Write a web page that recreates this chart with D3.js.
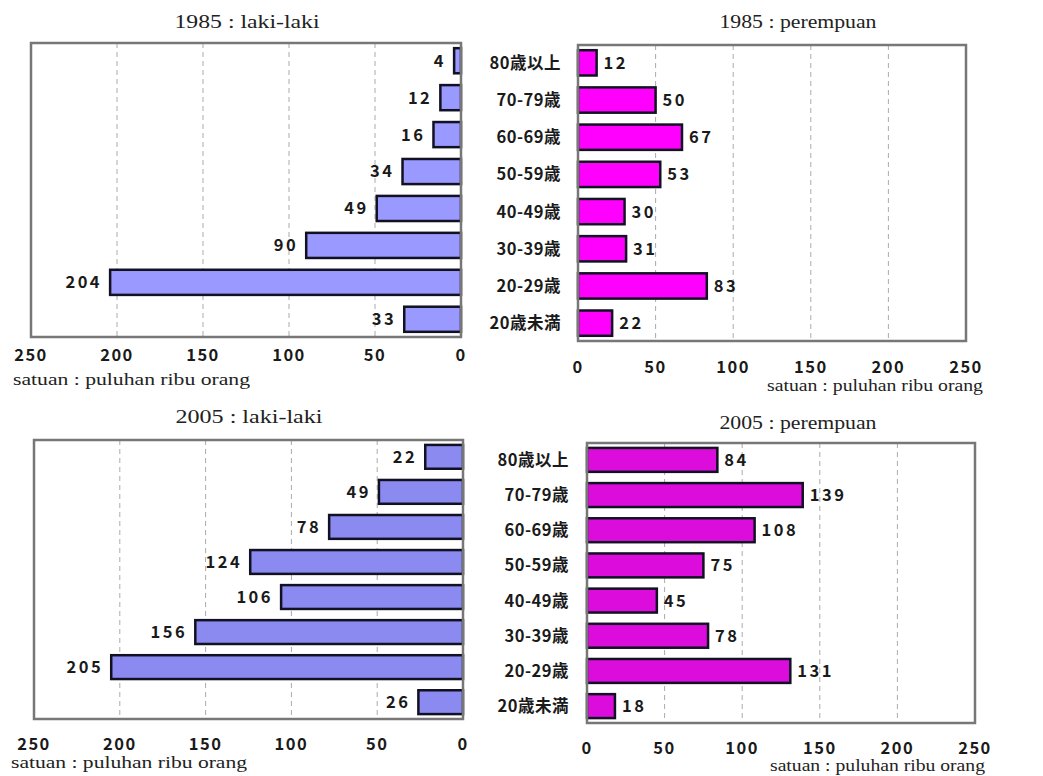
<!DOCTYPE html>
<html lang="en">
<head>
<meta charset="UTF-8">
<title>Penduduk 1985 / 2005</title>
<script src="https://cdn.jsdelivr.net/npm/d3@7"></script>
<style>
    body { margin: 0; background: #fff; }
    .title, .unit { font-family: "Liberation Serif", "Times New Roman", serif; fill: #222; }
    .tick-lbl, .val, .cat { font-family: "Noto Sans CJK KR", "DejaVu Sans", sans-serif; fill: #1a1a1a; font-weight: 700; }
</style>
</head>
<body>
<div id="chart"></div>
<script>
    // age groups, top to bottom
    var categories = ["80歳以上", "70-79歳", "60-69歳", "50-59歳", "40-49歳", "30-39歳", "20-29歳", "20歳未満"];
    // values in puluhan ribu orang
    var male1985   = [4, 12, 16, 34, 49, 90, 204, 33];
    var female1985 = [12, 50, 67, 53, 30, 31, 83, 22];
    var male2005   = [22, 49, 78, 124, 106, 156, 205, 26];
    var female2005 = [84, 139, 108, 75, 45, 78, 131, 18];
    var tickValues = [0, 50, 100, 150, 200, 250];
    var unitLabel = "satuan : puluhan ribu orang";

    var svg = d3.select("#chart").append("svg")
        .attr("width", 1043)
        .attr("height", 776);

    // each panel: box, title, colours
    var panels = [
        {title: "1985 : laki-laki", values: male1985, side: "left", fill: "#9999ff",
         x0: 31, x1: 461, y0: 43, y1: 337, titleX: 247, titleY: 28, titleW: 145,
         tickY: 361, unitX: 13, unitY: 385, unitW: 237},
        {title: "1985 : perempuan", values: female1985, side: "right", fill: "#ff00ff",
         x0: 578, x1: 966, y0: 45, y1: 341, titleX: 798, titleY: 28, titleW: 157,
         tickY: 373, unitX: 983, unitY: 391, unitW: 216, catX: 561},
        {title: "2005 : laki-laki", values: male2005, side: "left", fill: "#8a8af0",
         x0: 34, x1: 463, y0: 440, y1: 719, titleX: 249, titleY: 423, titleW: 147,
         tickY: 750, unitX: 11, unitY: 768, unitW: 236},
        {title: "2005 : perempuan", values: female2005, side: "right", fill: "#dc0ddc",
         x0: 587, x1: 975, y0: 443, y1: 723, titleX: 798, titleY: 429, titleW: 157,
         tickY: 754, unitX: 985, unitY: 771, unitW: 215, catX: 569}
    ];

    panels.forEach(function(p){
        var g = svg.append("g");
        var x = d3.scaleLinear().domain([0, 250])
            .range(p.side === "left" ? [p.x1, p.x0] : [p.x0, p.x1]);
        var y = d3.scaleBand().domain(categories)
            .range([p.y0, p.y1])
            .paddingInner(0.32)
            .paddingOuter(0.14);

        // dashed grid
        g.selectAll(".grid").data(tickValues.filter(function(t){ return t > 0 && t < 250; }))
            .enter().append("line")
            .attr("x1", function(d){ return x(d); })
            .attr("x2", function(d){ return x(d); })
            .attr("y1", p.y0)
            .attr("y2", p.y1)
            .style("stroke", "#aaa")
            .style("stroke-width", 1)
            .style("stroke-dasharray", "5,4");

        // bars
        g.selectAll(".bar").data(p.values)
            .enter().append("rect")
            .attr("x", function(d){ return p.side === "left" ? x(d) : x(0); })
            .attr("y", function(d, i){ return y(categories[i]); })
            .attr("width", function(d){ return Math.abs(x(d) - x(0)); })
            .attr("height", y.bandwidth())
            .style("fill", p.fill)
            .style("stroke", "#111122")
            .style("stroke-width", 2.5);

        // value labels
        g.selectAll(".val").data(p.values)
            .enter().append("text")
            .attr("class", "val")
            .attr("x", function(d){ return p.side === "left" ? x(d) - 8 : x(d) + 7; })
            .attr("y", function(d, i){ return y(categories[i]) + y.bandwidth() / 2; })
            .attr("dy", "0.36em")
            .attr("text-anchor", p.side === "left" ? "end" : "start")
            .style("font-size", "16.5px")
            .style("letter-spacing", "2.5px")
            .text(function(d){ return d; });

        // frame
        g.append("rect")
            .attr("x", p.x0).attr("y", p.y0)
            .attr("width", p.x1 - p.x0).attr("height", p.y1 - p.y0)
            .style("fill", "none")
            .style("stroke", "#777")
            .style("stroke-width", 2.5);

        // axis tick labels (no axis line)
        g.selectAll(".tick-lbl").data(tickValues)
            .enter().append("text")
            .attr("class", "tick-lbl")
            .attr("x", function(d){ return x(d); })
            .attr("y", p.tickY)
            .attr("text-anchor", "middle")
            .style("font-size", "16.5px")
            .style("letter-spacing", "1.5px")
            .text(function(d){ return d; });

        g.append("text").attr("class", "title")
            .attr("x", p.titleX).attr("y", p.titleY)
            .attr("text-anchor", "middle")
            .attr("textLength", p.titleW)
            .attr("lengthAdjust", "spacingAndGlyphs")
            .style("font-size", "19px")
            .text(p.title);

        g.append("text").attr("class", "unit")
            .attr("x", p.unitX).attr("y", p.unitY)
            .attr("text-anchor", p.side === "left" ? "start" : "end")
            .attr("textLength", p.unitW)
            .attr("lengthAdjust", "spacingAndGlyphs")
            .style("font-size", "16px")
            .text(unitLabel);

        if (p.side === "right") {
            g.selectAll(".cat").data(categories)
                .enter().append("text")
                .attr("class", "cat")
                .attr("x", p.catX)
                .attr("y", function(d){ return y(d) + y.bandwidth() / 2; })
                .attr("dy", "0.36em")
                .attr("text-anchor", "end")
                .style("font-size", "16.5px")
                .style("letter-spacing", "0.5px")
                .text(function(d){ return d; });
        }
    });
</script>
</body>
</html>
